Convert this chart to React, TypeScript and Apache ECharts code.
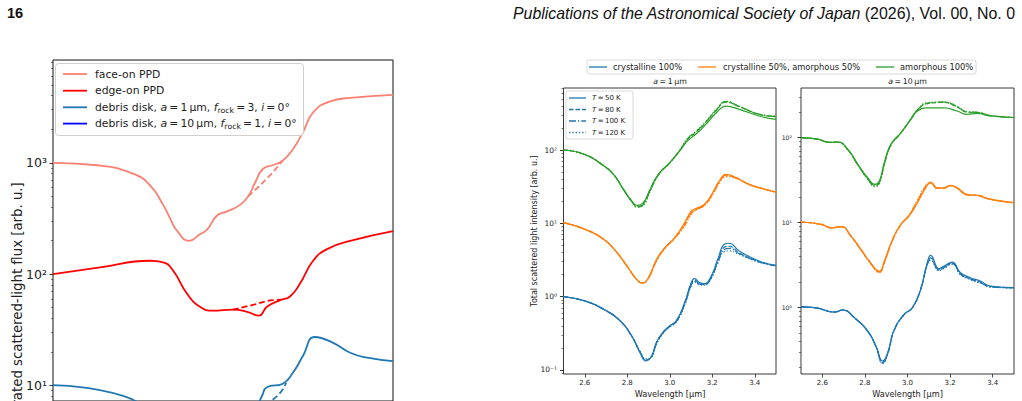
import React, { useEffect, useRef } from "react";
import * as echarts from "echarts";

// ---------- Left figure (cropped): integrated scattered-light flux ----------
const faceOnX = [2.5, 2.638, 2.735, 2.785, 2.824, 2.844, 2.865, 2.9, 2.932, 2.953, 2.982, 3.012, 3.05, 3.074, 3.096, 3.118, 3.15, 3.176, 3.206, 3.235, 3.265, 3.315, 3.374, 3.5];
const faceOnY = [1000, 946, 800, 630, 419, 319, 245, 199, 228, 251, 335, 366, 419, 500, 680, 885, 960, 1048, 1330, 1880, 2830, 3560, 3820, 4080];
const faceOnDashX = [3.074, 3.129, 3.176];
const faceOnDashY = [500, 722, 1048];

const edgeOnX = [2.5, 2.638, 2.785, 2.824, 2.853, 2.894, 2.932, 2.971, 3.029, 3.071, 3.106, 3.129, 3.168, 3.197, 3.226, 3.265, 3.306, 3.374, 3.5];
const edgeOnY = [100, 115, 132, 128, 108, 67, 51, 47, 48, 46, 42.5, 51, 58.5, 63, 82, 132, 168, 199, 244];
const edgeOnDashX = [3.029, 3.088, 3.147, 3.17];
const edgeOnDashY = [48, 53, 58.5, 59];

const debris1X = [2.5, 2.706, 2.8, 2.9, 3.0, 3.08, 3.115, 3.129, 3.176, 3.206, 3.235, 3.27, 3.324, 3.374, 3.424, 3.5];
const debris1Y = [10.1, 8.1, 5.2, 3.0, 3.6, 5.0, 8.1, 9.66, 10.4, 13.1, 18.4, 27.3, 24.2, 19.7, 17.8, 16.6];
const debris1DashX = [3.08, 3.16, 3.186];
const debris1DashY = [5.5, 8.1, 10.6];

const debris10X = [2.5, 2.7, 2.9, 3.1, 3.3, 3.5];
const debris10Y = [3.5, 3.2, 1.5, 2.5, 5.5, 5.0];

const leftTicks = [1, 2, 3];

// ---------- Right figure, panel a = 1 um ----------
const p1CrystX = [2.5, 2.6, 2.689, 2.767, 2.821, 2.86, 2.888, 2.914, 2.938, 2.969, 3.0, 3.031, 3.07, 3.101, 3.117, 3.14, 3.163, 3.195, 3.226, 3.257, 3.28, 3.327, 3.42, 3.5];
const p1Cryst50 = [1.0, 0.873, 0.672, 0.466, 0.291, 0.172, 0.133, 0.155, 0.24, 0.33, 0.4, 0.47, 0.83, 1.55, 1.76, 1.55, 1.5, 1.91, 3.23, 5.17, 5.34, 4.2, 3.06, 2.67];
const p1Cryst80 = [1.0, 0.873, 0.672, 0.466, 0.29, 0.175, 0.136, 0.152, 0.235, 0.325, 0.395, 0.46, 0.8, 1.48, 1.68, 1.5, 1.47, 1.85, 3.05, 4.7, 4.85, 3.95, 3.0, 2.65];
const p1Cryst100 = [1.0, 0.873, 0.672, 0.466, 0.288, 0.178, 0.138, 0.15, 0.23, 0.32, 0.39, 0.455, 0.78, 1.44, 1.62, 1.48, 1.45, 1.8, 2.95, 4.4, 4.55, 3.85, 2.98, 2.64];
const p1Cryst120 = [1.0, 0.873, 0.672, 0.466, 0.286, 0.18, 0.141, 0.148, 0.225, 0.315, 0.385, 0.45, 0.76, 1.4, 1.57, 1.46, 1.44, 1.76, 2.85, 4.1, 4.2, 3.75, 2.95, 2.63];

const p1MixX = [2.5, 2.6, 2.689, 2.751, 2.798, 2.844, 2.871, 2.899, 2.938, 2.977, 3.023, 3.07, 3.101, 3.125, 3.163, 3.202, 3.233, 3.265, 3.311, 3.374, 3.451, 3.5];
const p1Mix50 = [10.2, 8.3, 6.05, 4.0, 2.62, 1.72, 1.52, 1.81, 3.23, 4.66, 6.38, 10.2, 14.7, 16.0, 18.2, 26.2, 37.8, 46.5, 42, 34, 29, 26.7];
const p1Mix80 = [10.2, 8.3, 6.05, 4.0, 2.62, 1.72, 1.53, 1.79, 3.15, 4.6, 6.3, 9.7, 14.0, 15.6, 17.8, 25.5, 37, 45.5, 42, 34, 29, 26.7];
const p1Mix100 = [10.2, 8.3, 6.05, 4.0, 2.62, 1.72, 1.54, 1.77, 3.1, 4.55, 6.25, 9.4, 13.6, 15.4, 17.6, 25.0, 36, 44.5, 41.5, 33.8, 28.9, 26.6];
const p1Mix120 = [10.2, 8.3, 6.05, 4.0, 2.62, 1.72, 1.55, 1.75, 3.05, 4.5, 6.2, 9.1, 13.2, 15.2, 17.4, 24.5, 35, 43.0, 41, 33.5, 28.8, 26.6];

const p1AmorX = [2.5, 2.6, 2.689, 2.735, 2.782, 2.821, 2.847, 2.875, 2.907, 2.946, 3.0, 3.047, 3.086, 3.124, 3.171, 3.218, 3.265, 3.327, 3.42, 3.5];
const p1Amor50 = [100, 87, 61, 46.6, 29, 20, 17.6, 19, 29, 46.6, 67, 97, 135, 165, 225, 320, 398, 359, 291, 262];
const p1Amor80 = [100, 87, 61, 46.6, 29, 20, 17.0, 18.3, 28, 46, 67, 98, 142, 175, 240, 345, 450, 390, 306, 285];
const p1Amor100 = [100, 87, 61, 46.6, 29, 20, 16.8, 17.9, 27.5, 45.5, 67, 99, 145, 178, 244, 350, 457, 392, 308, 287];
const p1Amor120 = [100, 87, 61, 46.6, 29, 20, 16.5, 17.4, 27, 45, 67, 100, 147, 181, 248, 355, 462, 395, 310, 290];

// ---------- Right figure, panel a = 10 um ----------
const p2CrystX = [2.5, 2.564, 2.658, 2.696, 2.751, 2.813, 2.852, 2.883, 2.907, 2.938, 2.984, 3.023, 3.062, 3.093, 3.109, 3.148, 3.171, 3.21, 3.249, 3.296, 3.342, 3.389, 3.5];
const p2Cryst50 = [1.02, 1.0, 0.889, 0.94, 0.762, 0.531, 0.354, 0.236, 0.296, 0.556, 0.835, 1.0, 1.64, 3.38, 4.13, 2.88, 3.09, 3.44, 2.58, 2.25, 2.06, 1.8, 1.72];
const p2Cryst80 = [1.02, 1.0, 0.889, 0.94, 0.76, 0.53, 0.35, 0.228, 0.29, 0.55, 0.83, 1.0, 1.66, 3.3, 3.85, 2.8, 3.0, 3.35, 2.5, 2.2, 2.0, 1.78, 1.72];
const p2Cryst100 = [1.02, 1.0, 0.889, 0.94, 0.76, 0.53, 0.348, 0.224, 0.287, 0.545, 0.83, 1.0, 1.67, 3.25, 3.72, 2.76, 2.95, 3.3, 2.47, 2.17, 1.97, 1.76, 1.71];
const p2Cryst120 = [1.02, 1.0, 0.889, 0.94, 0.76, 0.53, 0.346, 0.22, 0.284, 0.54, 0.825, 1.0, 1.68, 3.2, 3.6, 2.72, 2.9, 3.25, 2.44, 2.14, 1.95, 1.75, 1.71];

const p2MixX = [2.5, 2.595, 2.642, 2.689, 2.735, 2.782, 2.821, 2.868, 2.891, 2.93, 2.969, 3.008, 3.047, 3.086, 3.109, 3.14, 3.171, 3.202, 3.233, 3.28, 3.327, 3.389, 3.5];
const p2Mix50 = [10.2, 9.55, 8.7, 9.0, 6.97, 4.85, 3.54, 2.7, 3.54, 6.4, 9.55, 12, 17.2, 25.8, 30, 25.8, 25.8, 27.5, 25.8, 21.5, 20.9, 18.8, 17.2];
const p2Mix80 = [10.2, 9.55, 8.7, 9.0, 6.9, 4.8, 3.5, 2.65, 3.45, 6.3, 9.5, 12.2, 17.8, 26.5, 29.5, 25.5, 25.6, 27.3, 25.6, 21.4, 21.0, 18.9, 17.2];
const p2Mix100 = [10.2, 9.55, 8.7, 9.0, 6.9, 4.8, 3.48, 2.62, 3.4, 6.25, 9.5, 12.3, 18.2, 27, 29.3, 25.3, 25.5, 27.2, 25.5, 21.3, 21.0, 18.9, 17.2];
const p2Mix120 = [10.2, 9.55, 8.7, 9.0, 6.85, 4.75, 3.45, 2.6, 3.35, 6.2, 9.45, 12.4, 18.6, 27.5, 29, 25.1, 25.4, 27.1, 25.4, 21.2, 21.1, 19.0, 17.2];

const p2AmorX = [2.5, 2.58, 2.634, 2.673, 2.72, 2.767, 2.813, 2.847, 2.868, 2.891, 2.922, 2.969, 3.016, 3.047, 3.093, 3.171, 3.233, 3.28, 3.327, 3.389, 3.5];
const p2Amor50 = [100, 96, 88, 89, 73, 48.6, 33.8, 28.2, 31, 50.8, 83.5, 114, 164, 206, 225, 225, 206, 188, 193, 180, 172];
const p2Amor80 = [100, 96, 88, 89, 72, 48, 33, 27.5, 30, 49, 82, 114, 166, 212, 252, 260, 230, 200, 198, 182, 173];
const p2Amor100 = [100, 96, 88, 89, 72, 48, 33, 27, 29.5, 48.5, 82, 114, 166, 213, 256, 262, 232, 201, 199, 182, 173];
const p2Amor120 = [100, 96, 88, 89, 71.5, 47.5, 32.5, 26.5, 29, 48, 81.5, 114, 167, 214, 258, 264, 234, 202, 200, 183, 173];

const p1Ticks = [-1, 0, 1, 2];
const p2Ticks = [0, 1, 2];
const wavelengthTicks = [2.6, 2.8, 3.0, 3.2, 3.4];

const compositions = ["crystalline 100%", "crystalline 50%, amorphous 50%", "amorphous 100%"];
const temperatures = ["50", "80", "100", "120"];

// ---------- helpers ----------
const SUP: Record<string, string> = { "-": "⁻", "0": "⁰", "1": "¹", "2": "²", "3": "³", "4": "⁴" };
const pow10 = (v: number) => "10" + String(Math.round(v)).split("").map((c) => SUP[c]).join("");
const toLog = (xs: number[], ys: number[]) => xs.map((x, i) => [x, Math.log10(ys[i])]);
const minorTicks = (min: number, max: number) => {
  const out: number[] = [];
  for (let d = Math.floor(min); d <= Math.ceil(max); d++) {
    for (let k = 2; k <= 9; k++) {
      const v = d + Math.log10(k);
      if (v > min && v < max) out.push(v);
    }
  }
  return out;
};

const BLUE = "#1f77b4", ORANGE = "#ff7f0e", GREEN = "#2ca02c";
const FONT = "DejaVu Sans";
const DASHES: any[] = ["solid", [4.5, 2], [7, 2, 1.3, 2], [1.3, 2]];
const TS = "\u2009"; // thin space, as in math text

function ser(xs: number[], ys: number[], color: string, width: number, dash: any, g: number, z = 3) {
  return {
    type: "line",
    xAxisIndex: g,
    yAxisIndex: g * 2,
    data: toLog(xs, ys),
    symbol: "none",
    showSymbol: false,
    smooth: 0.5,
    lineStyle: { color, width, type: dash },
    itemStyle: { color },
    silent: true,
    clip: true,
    z,
  };
}

// y ranges in log10 units (left figure is cropped by the page edge)
const ranges = [
  { min: 0.8616, max: 3.923 },
  { min: -1.056, max: 2.846 },
  { min: -0.78, max: 2.585 },
];

function yAxes(g: number, ticks: number[], fontSize: number, margin: number, tickLen: number) {
  const r = ranges[g];
  return [
    {
      type: "value", gridIndex: g, min: r.min, max: r.max, position: "left",
      axisLine: { show: false, onZero: false },
      axisTick: { show: true, customValues: ticks, length: tickLen, lineStyle: { color: "#222", width: 0.9 } },
      axisLabel: { show: true, customValues: ticks, formatter: pow10, fontSize, fontFamily: FONT, color: "#222", margin },
      splitLine: { show: false },
    },
    {
      type: "value", gridIndex: g, min: r.min, max: r.max, position: "left", offset: 0,
      axisLine: { show: false, onZero: false },
      axisTick: { show: true, customValues: minorTicks(r.min, r.max), length: tickLen * 0.57, lineStyle: { color: "#222", width: 0.6 } },
      axisLabel: { show: false },
      splitLine: { show: false },
    },
  ];
}

function xAxisPanel(g: number) {
  return {
    type: "value", gridIndex: g, min: 2.5, max: 3.5, position: "bottom",
    axisLine: { show: false, onZero: false },
    axisTick: { show: true, customValues: wavelengthTicks, length: 3.5, lineStyle: { color: "#222", width: 0.8 } },
    axisLabel: { show: true, customValues: wavelengthTicks, formatter: (v: number) => v.toFixed(1), fontSize: 7, fontFamily: FONT, color: "#222", margin: 5 },
    splitLine: { show: false },
  };
}

function txt(x: number, y: number, text: string, rich: any, extra: any = {}) {
  return {
    type: "text", x, y, silent: true, z: 100,
    style: { text, rich, fill: "#222", align: "left", verticalAlign: "middle", font: `8px ${FONT}`, ...extra },
  };
}
function seg(x1: number, y1: number, x2: number, y2: number, stroke: string, lineWidth: number, lineDash?: number[]) {
  return { type: "line", silent: true, z: 100, shape: { x1, y1, x2, y2 }, style: { stroke, lineWidth, lineDash: lineDash || null } };
}

function buildOption() {
  const series: any[] = [];
  // left figure
  series.push(ser(faceOnDashX, faceOnDashY, "#fa8072", 1.8, [6, 3], 0));
  series.push(ser(edgeOnDashX, edgeOnDashY, "#ff0000", 1.8, [6, 3], 0));
  series.push(ser(debris1DashX, debris1DashY, BLUE, 1.8, [6, 3], 0));
  series.push(ser(faceOnX, faceOnY, "#fa8072", 1.8, "solid", 0));
  series.push(ser(edgeOnX, edgeOnY, "#ff0000", 1.8, "solid", 0));
  series.push(ser(debris1X, debris1Y, BLUE, 1.8, "solid", 0));
  series.push(ser(debris10X, debris10Y, "#0000ff", 1.8, "solid", 0));
  // right panels
  const p1 = [
    [p1CrystX, [p1Cryst50, p1Cryst80, p1Cryst100, p1Cryst120], BLUE],
    [p1MixX, [p1Mix50, p1Mix80, p1Mix100, p1Mix120], ORANGE],
    [p1AmorX, [p1Amor50, p1Amor80, p1Amor100, p1Amor120], GREEN],
  ] as any[];
  const p2 = [
    [p2CrystX, [p2Cryst50, p2Cryst80, p2Cryst100, p2Cryst120], BLUE],
    [p2MixX, [p2Mix50, p2Mix80, p2Mix100, p2Mix120], ORANGE],
    [p2AmorX, [p2Amor50, p2Amor80, p2Amor100, p2Amor120], GREEN],
  ] as any[];
  [p1, p2].forEach((panel, pi) => {
    panel.forEach(([xs, sets, color]: any) => {
      sets.forEach((ys: number[], ti: number) => series.push(ser(xs, ys, color, 1.2, DASHES[ti], pi + 1)));
    });
  });

  const LF = 10.8;
  const rLeft = {
    n: { fontSize: LF, fontFamily: FONT, lineHeight: 14, fill: "#222" },
    i: { fontSize: LF, fontFamily: FONT, fontStyle: "italic", lineHeight: 14, fill: "#222" },
    s: { fontSize: 7.8, fontFamily: FONT, lineHeight: 8, verticalAlign: "bottom", fill: "#222" },
  };
  const rSmall = (fs: number) => ({
    n: { fontSize: fs, fontFamily: FONT, fill: "#222" },
    i: { fontSize: fs, fontFamily: FONT, fontStyle: "italic", fill: "#222" },
  });

  const eq = `${TS}=${TS}`;
  const leftRows = [
    ["#fa8072", "{n|face-on PPD}"],
    ["#ff0000", "{n|edge-on PPD}"],
    [BLUE, `{n|debris disk, }{i|a}{n|${eq}1${TS}µm, }{i|f}{s|rock}{n|${eq}3, }{i|i}{n|${eq}0°}`],
    ["#0000ff", `{n|debris disk, }{i|a}{n|${eq}10${TS}µm, }{i|f}{s|rock}{n|${eq}1, }{i|i}{n|${eq}0°}`],
  ];
  const leftRowY = [74, 90.7, 107.3, 123.6];

  const graphic: any[] = [
    // page header
    { type: "text", x: 7, y: 13, silent: true, style: { text: "16", font: `bold 14.5px "Liberation Sans"`, fill: "#111", verticalAlign: "middle" } },
    {
      type: "text", x: 1015, y: 13, silent: true,
      style: {
        text: "{it|Publications of the Astronomical Society of Japan}{n| (2026), Vol. 00, No. 0}",
        rich: {
          it: { fontSize: 15.9, fontFamily: "Liberation Sans", fontStyle: "italic", fill: "#111" },
          n: { fontSize: 15.9, fontFamily: "Liberation Sans", fill: "#111" },
        },
        align: "right", verticalAlign: "middle",
      },
    },
    // left legend
    { type: "rect", silent: true, z: 90, shape: { x: 55.5, y: 63.5, width: 248, height: 72, r: 3 }, style: { fill: "rgba(255,255,255,0.85)", stroke: "#cfcfcf", lineWidth: 1 } },
    ...leftRows.flatMap(([c, t], i) => [
      seg(63, leftRowY[i], 87, leftRowY[i], c, 1.8),
      txt(95, leftRowY[i], t, rLeft, { font: `${LF}px ${FONT}` }),
    ]),
    // left y title (cut by page edge as in the source)
    {
      type: "text", x: 17, y: 311, rotation: Math.PI / 2, silent: true,
      style: { text: "Integrated scattered-light flux [arb. u.]", font: `13.3px ${FONT}`, fill: "#222", align: "center", verticalAlign: "middle" },
    },
    // right top legend
    { type: "rect", silent: true, z: 90, shape: { x: 587, y: 60, width: 389, height: 14, r: 2 }, style: { fill: "#fff", stroke: "#d0d0d0", lineWidth: 0.8 } },
    seg(589, 67, 607, 67, BLUE, 1.3),
    txt(613, 67, `{n|${compositions[0]}}`, rSmall(8.3)),
    seg(698, 67, 716, 67, ORANGE, 1.3),
    txt(723, 67, `{n|${compositions[1]}}`, rSmall(8.3)),
    seg(876, 67, 894, 67, GREEN, 1.3),
    txt(900, 67, `{n|${compositions[2]}}`, rSmall(8.3)),
    // panel titles
    txt(670, 81, `{i|a}{n|${eq}1${TS}µm}`, rSmall(7.8), { align: "center" }),
    txt(907.5, 81, `{i|a}{n|${eq}10${TS}µm}`, rSmall(7.8), { align: "center" }),
    // inner temperature legend
    { type: "rect", silent: true, z: 90, shape: { x: 566, y: 91, width: 67, height: 48, r: 2 }, style: { fill: "rgba(255,255,255,0.85)", stroke: "#d0d0d0", lineWidth: 0.8 } },
    ...temperatures.flatMap((t, i) => {
      const y = 98 + i * 11.5;
      const d = DASHES[i];
      return [
        seg(569, y, 586, y, BLUE, 1.3, d === "solid" ? undefined : d),
        txt(592, y, `{i|T}{n|${eq}${t} K}`, rSmall(7)),
      ];
    }),
    // axis titles right figure
    {
      type: "text", x: 534, y: 231, rotation: Math.PI / 2, silent: true,
      style: { text: "Total scattered light intensity [arb. u.]", font: `8px ${FONT}`, fill: "#222", align: "center", verticalAlign: "middle" },
    },
    txt(670, 393.5, "{n|Wavelength [µm]}", rSmall(8.2), { align: "center" }),
    txt(907.5, 393.5, "{n|Wavelength [µm]}", rSmall(8.2), { align: "center" }),
  ];

  return {
    animation: false,
    backgroundColor: "#fff",
    textStyle: { fontFamily: FONT },
    grid: [
      { left: 53, top: 60, width: 340, height: 345, show: true, borderColor: "#111", borderWidth: 1, backgroundColor: "transparent", containLabel: false },
      { left: 563.5, top: 88, width: 212.5, height: 286, show: true, borderColor: "#222", borderWidth: 0.9, backgroundColor: "transparent", containLabel: false },
      { left: 801, top: 88, width: 213, height: 286, show: true, borderColor: "#222", borderWidth: 0.9, backgroundColor: "transparent", containLabel: false },
    ],
    xAxis: [
      { type: "value", gridIndex: 0, min: 2.5, max: 3.5, axisLine: { show: false, onZero: false }, axisTick: { show: false }, axisLabel: { show: false }, splitLine: { show: false } },
      xAxisPanel(1),
      xAxisPanel(2),
    ],
    yAxis: [
      ...yAxes(0, leftTicks, 12.5, 6, 3.5),
      ...yAxes(1, p1Ticks, 7.5, 6.5, 3.5),
      ...yAxes(2, p2Ticks, 6.2, 9, 3.5),
    ],
    series,
    graphic,
  };
}

export default function App() {
  const ref = useRef<HTMLDivElement>(null);
  useEffect(() => {
    const chart = echarts.init(ref.current!, null, { renderer: "svg" });
    chart.setOption(buildOption() as any);
    return () => chart.dispose();
  }, []);
  return (
    <div
      ref={ref}
      style={{ position: "absolute", left: 0, top: 0, width: 1022, height: 401, background: "#fff", overflow: "hidden" }}
    />
  );
}
